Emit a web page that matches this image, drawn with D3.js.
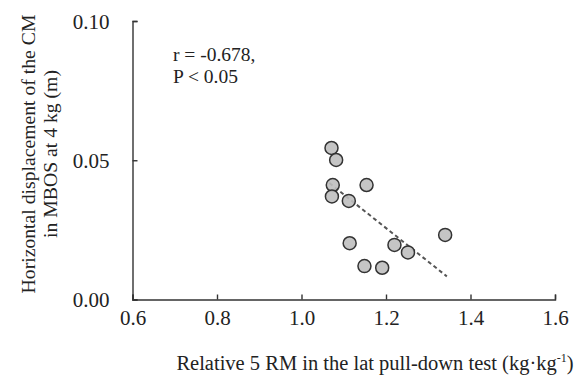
<!DOCTYPE html>
<html>
<head>
<meta charset="utf-8">
<script src="https://cdn.jsdelivr.net/npm/d3@7"></script>
<style>
  body { margin: 0; background: #fff; }
  svg text { font-family: "Liberation Serif", "Times New Roman", serif; fill: #222; }
</style>
</head>
<body>
<div class="c_chart"></div>
<script>
/* DATA */
const relStrength = [1.071, 1.082, 1.074, 1.072, 1.154, 1.112, 1.114, 1.220, 1.252, 1.340, 1.149, 1.191];
const displacement = [0.0544, 0.0501, 0.0411, 0.0370, 0.0411, 0.0354, 0.0202, 0.0196, 0.0169, 0.0232, 0.0120, 0.0114];
const trendX = [1.066, 1.344];
const trendY = [0.0418, 0.0083];
const xTicks = [0.6, 0.8, 1.0, 1.2, 1.4, 1.6];
const yTicks = [0.00, 0.05, 0.10];
const statLines = ["r = -0.678,", "P < 0.05"];

/* SVG */
const width = 576, height = 381;
const margin = {top: 21, right: 21, bottom: 81.5, left: 132.5};

let svg = d3.select(".c_chart")
	.append("svg")
	.attr("width", width)
	.attr("height", height);

let x = d3.scaleLinear().domain([0.6, 1.6]).range([margin.left, width - margin.right]);
let y = d3.scaleLinear().domain([0, 0.10]).range([height - margin.bottom, margin.top]);

/* axes, ticks inside */
let xAxis = svg.append("g")
	.attr("transform", `translate(0,${y(0)})`)
	.call(d3.axisTop(x).tickValues(xTicks).tickSize(5));
xAxis.selectAll("text").remove();
xAxis.selectAll("g.tick").append("text")
	.attr("y", 25)
	.attr("text-anchor", "middle")
	.attr("font-size", 21)
	.text(d => d3.format(".1f")(d));

let yAxis = svg.append("g")
	.attr("transform", `translate(${x(0.6)},0)`)
	.call(d3.axisRight(y).tickValues(yTicks).tickSize(5));
yAxis.selectAll("text").remove();
yAxis.selectAll("g.tick").append("text")
	.attr("x", -23)
	.attr("dy", "0.35em")
	.attr("text-anchor", "end")
	.attr("font-size", 21)
	.text(d => d3.format(".2f")(d));

svg.selectAll(".domain, .tick line")
	.attr("stroke", "#333")
	.attr("stroke-width", 1.4);

/* trend line */
svg.append("line")
	.attr("x1", x(trendX[0])).attr("y1", y(trendY[0]))
	.attr("x2", x(trendX[1])).attr("y2", y(trendY[1]))
	.attr("stroke", "#555")
	.attr("stroke-width", 2)
	.attr("stroke-dasharray", "4,3");

/* points */
svg.append("g")
	.selectAll("circle")
	.data(relStrength.map((v, i) => [v, displacement[i]]))
	.enter()
	.append("circle")
	.attr("cx", d => x(d[0]))
	.attr("cy", d => y(d[1]))
	.attr("r", 6.5)
	.attr("fill", "#bfbfbf")
	.attr("fill-opacity", 0.9)
	.attr("stroke", "#333")
	.attr("stroke-width", 1.5);

/* annotation */
svg.append("text")
	.attr("font-size", 19.5)
	.selectAll("tspan")
	.data(statLines)
	.enter()
	.append("tspan")
	.attr("x", 173)
	.attr("y", (d, i) => 61 + i * 22)
	.text(d => d);

/* axis titles */
let yt = svg.append("text")
	.attr("transform", "translate(35,154) rotate(-90)")
	.attr("text-anchor", "middle")
	.attr("font-size", 19.7);
yt.append("tspan").attr("x", 0).attr("y", 0).text("Horizontal displacement of the CM");
yt.append("tspan").attr("x", 0).attr("y", 22).text("in MBOS at 4 kg (m)");

let xt = svg.append("text")
	.attr("x", 375)
	.attr("y", 370)
	.attr("text-anchor", "middle")
	.attr("font-size", 20.5);
xt.append("tspan").text("Relative 5 RM in the lat pull-down test (kg·kg");
xt.append("tspan").attr("font-size", 12).attr("dy", -8).text("-1");
xt.append("tspan").attr("dy", 8).text(")");
</script>
</body>
</html>
